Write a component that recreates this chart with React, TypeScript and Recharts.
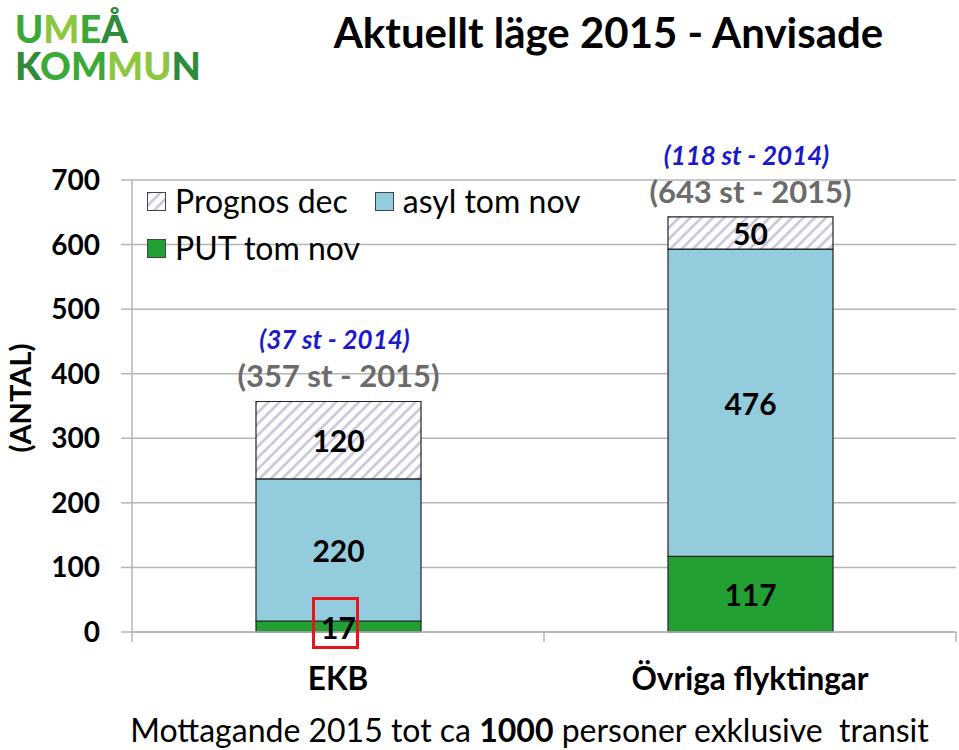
import React from "react";
import {
    BarChart,
    Bar,
    XAxis,
    YAxis,
    CartesianGrid,
    LabelList,
} from "recharts";

// Values
const categories = ["EKB", "Övriga flyktingar"];
const putTomNov = [17, 117];
const asylTomNov = [220, 476];
const prognosDec = [120, 50];
const antal2014 = [37, 118];
const framed = [1, 0]; // red frame round the PUT label
const yTicks = [0, 100, 200, 300, 400, 500, 600, 700];

const seriesNames = {
    put: "PUT tom nov",
    asyl: "asyl tom nov",
    prognos: "Prognos dec",
};

const FONT = "Lato, 'Open Sans', sans-serif";
const GREEN = "#22a034";
const BLUE = "#93cddd";
const HATCH = "url(#hatch)";
const GRID = "#b5b5b5";

const data = categories.map((name, i) => ({
    name,
    put: putTomNov[i],
    asyl: asylTomNov[i],
    prognos: prognosDec[i],
    total: putTomNov[i] + asylTomNov[i] + prognosDec[i],
    prev: antal2014[i],
    frame: framed[i],
}));

const legendItems = [
    { name: seriesNames.prognos, fill: HATCH },
    { name: seriesNames.asyl, fill: BLUE },
    { name: seriesNames.put, fill: GREEN },
];

const CategoryTick = (props: any) => {
    const { x, y, payload, index } = props;
    const half = payload && payload.offset ? payload.offset : 206;
    return (
        <g>
            <line x1={x + half} x2={x + half} y1={y} y2={y + 10} stroke={GRID} strokeWidth={1.5} />
            {index === 0 && (
                <line x1={x - half} x2={x - half} y1={y} y2={y + 10} stroke={GRID} strokeWidth={1.5} />
            )}
            <text
                x={x}
                y={y + 46}
                textAnchor="middle"
                dominantBaseline="central"
                fontFamily={FONT}
                fontWeight={700}
                fontSize={31.5}
                fill="#000"
            >
                {payload.value}
            </text>
        </g>
    );
};

const valueLabel = (props: any) => {
    const { x, y, width, height, value } = props;
    return (
        <text
            x={x + width / 2}
            y={y + height / 2}
            textAnchor="middle"
            dominantBaseline="central"
            fontFamily={FONT}
            fontWeight={700}
            fontSize={30}
            fill="#000"
        >
            {value}
        </text>
    );
};

const frameLabel = (props: any) => {
    const { x, y, width, height, value } = props;
    if (!value) return null;
    const cx = x + width / 2 - 3;
    const cy = y + height / 2 - 4;
    return (
        <rect x={cx - 22} y={cy - 24} width={44} height={49} fill="none" stroke="#e8141c" strokeWidth={3} />
    );
};

const totalLabel = (props: any) => {
    const { x, y, width, value } = props;
    return (
        <text
            x={x + width / 2}
            y={y - 26}
            textAnchor="middle"
            dominantBaseline="central"
            fontFamily={FONT}
            fontWeight={700}
            fontSize={31}
            fill="#6b6b6b"
        >
            {`(${value} st - 2015)`}
        </text>
    );
};

const prevLabel = (props: any) => {
    const { x, y, width, value } = props;
    return (
        <text
            x={x + width / 2 - 4}
            y={y - 62}
            textAnchor="middle"
            dominantBaseline="central"
            fontFamily={FONT}
            fontWeight={700}
            fontStyle="italic"
            fontSize={26}
            fill="#1a1acc"
        >
            {`(${value} st - 2014)`}
        </text>
    );
};

const ChartLegend = () => (
    <div
        style={{
            position: "absolute",
            left: 147,
            top: 182,
            width: 470,
            display: "flex",
            flexWrap: "wrap",
            rowGap: 9,
            columnGap: 27,
        }}
    >
        {legendItems.map((item) => (
            <div key={item.name} style={{ display: "flex", alignItems: "center", height: 38 }}>
                <svg width={19} height={19} style={{ marginRight: 9 }}>
                    <rect x={0.5} y={0.5} width={18} height={18} fill={item.fill} stroke="#444" strokeWidth={1} />
                </svg>
                <span style={{ fontFamily: FONT, fontSize: 32, color: "#000", lineHeight: "38px" }}>
                    {item.name}
                </span>
            </div>
        ))}
    </div>
);

const Logo = () => {
    const letters1 = [
        ["U", "#3aa935"],
        ["M", "#8dc63f"],
        ["E", "#3aa935"],
        ["Å", "#2e8b3a"],
    ];
    const letters2 = [
        ["K", "#2e8b3a"],
        ["O", "#3aa935"],
        ["M", "#3aa935"],
        ["M", "#8dc63f"],
        ["U", "#8dc63f"],
        ["N", "#2e8b3a"],
    ];
    const style: React.CSSProperties = {
        fontFamily: FONT,
        fontWeight: 900,
        fontSize: 38,
        whiteSpace: "nowrap",
    };
    return (
        <div style={{ position: "absolute", left: 15, top: 0, ...style }}>
            <div style={{ position: "absolute", top: 10, lineHeight: "36px" }}>
                {letters1.map(([c, col], i) => (
                    <span key={i} style={{ color: col }}>{c}</span>
                ))}
            </div>
            <div style={{ position: "absolute", top: 47, lineHeight: "36px" }}>
                {letters2.map(([c, col], i) => (
                    <span key={i} style={{ color: col }}>{c}</span>
                ))}
            </div>
        </div>
    );
};

export default function App() {
    return (
        <div style={{ position: "absolute", left: 0, top: 0, width: 959, height: 750, background: "#fff" }}>
            <svg width={0} height={0} style={{ position: "absolute" }}>
                <defs>
                    <pattern id="hatch" width={8} height={8} patternUnits="userSpaceOnUse" patternTransform="rotate(45)">
                        <rect width={8} height={8} fill="#fff" />
                        <line x1={2} y1={0} x2={2} y2={8} stroke="#c9c5d9" strokeWidth={2.6} />
                    </pattern>
                </defs>
            </svg>
            <Logo />
            <div
                style={{
                    position: "absolute",
                    left: 0,
                    width: 959,
                    paddingLeft: 258,
                    boxSizing: "border-box",
                    top: 7,
                    textAlign: "center",
                    fontFamily: FONT,
                    fontWeight: 700,
                    fontSize: 42,
                }}
            >
                Aktuellt läge 2015 - Anvisade
            </div>
            <BarChart
                width={959}
                height={750}
                data={data}
                margin={{ top: 180, right: 3, bottom: 0, left: 0 }}
                barSize={165}
            >
                <CartesianGrid vertical={false} stroke={GRID} strokeWidth={1.5} />
                <XAxis
                    dataKey="name"
                    height={118}
                    axisLine={{ stroke: GRID, strokeWidth: 1.5 }}
                    tickLine={false}
                    tickSize={0}
                    tickMargin={0}
                    tick={<CategoryTick />}
                    interval={0}
                />
                <YAxis
                    width={132}
                    domain={[0, 700]}
                    ticks={yTicks}
                    interval={0}
                    tickSize={11}
                    tickMargin={21}
                    axisLine={{ stroke: GRID, strokeWidth: 1.5 }}
                    tickLine={{ stroke: GRID, strokeWidth: 1.5 }}
                    tick={{ fontFamily: FONT, fontWeight: 700, fontSize: 28, fill: "#000" }}
                    label={{
                        content: () => (
                            <text
                                x={19}
                                y={398}
                                transform="rotate(-90 19 398)"
                                textAnchor="middle"
                                dominantBaseline="central"
                                fontFamily={FONT}
                                fontWeight={700}
                                fontSize={29}
                                fill="#000"
                            >
                                (ANTAL)
                            </text>
                        ),
                    }}
                />
                <Bar
                    dataKey="put"
                    name={seriesNames.put}
                    stackId="a"
                    fill={GREEN}
                    stroke="#222"
                    strokeWidth={1.2}
                    isAnimationActive={false}
                >
                    <LabelList dataKey="put" content={valueLabel} />
                    <LabelList dataKey="frame" content={frameLabel} />
                </Bar>
                <Bar
                    dataKey="asyl"
                    name={seriesNames.asyl}
                    stackId="a"
                    fill={BLUE}
                    stroke="#222"
                    strokeWidth={1.2}
                    isAnimationActive={false}
                >
                    <LabelList dataKey="asyl" content={valueLabel} />
                </Bar>
                <Bar
                    dataKey="prognos"
                    name={seriesNames.prognos}
                    stackId="a"
                    fill={HATCH}
                    stroke="#222"
                    strokeWidth={1.2}
                    isAnimationActive={false}
                >
                    <LabelList dataKey="prognos" content={valueLabel} />
                    <LabelList dataKey="total" content={totalLabel} />
                    <LabelList dataKey="prev" content={prevLabel} />
                </Bar>
            </BarChart>
            <ChartLegend />
            <div
                style={{
                    position: "absolute",
                    left: 0,
                    width: 959,
                    paddingLeft: 100,
                    boxSizing: "border-box",
                    top: 710,
                    textAlign: "center",
                    fontFamily: FONT,
                    fontSize: 32,
                    lineHeight: "40px",
                    whiteSpace: "pre",
                }}
            >
                Mottagande 2015 tot ca <b>1000</b> personer exklusive  transit
            </div>
        </div>
    );
}
